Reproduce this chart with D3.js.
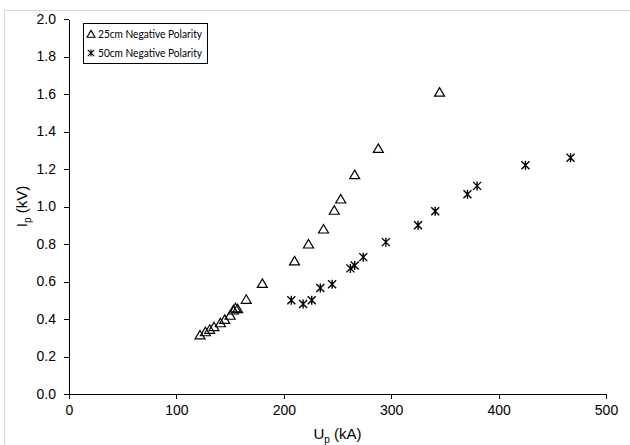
<!DOCTYPE html>
<html lang="en">
<head>
<meta charset="utf-8">
<title>Ip vs Up scatter</title>
<script src="https://d3js.org/d3.v7.min.js"></script>
<style>
  body { margin: 0; background: #fff; }
  svg { display: block; font-family: "Liberation Sans", Arial, sans-serif; }
  .axis path, .axis line { stroke: #000; shape-rendering: crispEdges; }
  .axis text { font-size: 14px; fill: #000; font-family: "Liberation Sans", Arial, sans-serif; }
</style>
</head>
<body>
<div id="chart"></div>
<script>
// Data (Up in kA, Ip in kV)
const seriesNames = ["25cm Negative Polarity", "50cm Negative Polarity"];

const up25 = [122, 127, 131, 135, 141, 145, 150, 153, 155, 157, 165, 180, 210, 223, 237, 247, 253, 266, 288, 345];
const ip25 = [0.315, 0.332, 0.345, 0.359, 0.38, 0.398, 0.42, 0.448, 0.46, 0.455, 0.505, 0.59, 0.71, 0.80, 0.88, 0.98, 1.04, 1.17, 1.31, 1.61];

const up50 = [207, 218, 226, 234, 245, 262, 266, 274, 295, 325, 341, 371, 380, 425, 467];
const ip50 = [0.50, 0.48, 0.50, 0.565, 0.585, 0.67, 0.685, 0.73, 0.81, 0.90, 0.975, 1.065, 1.11, 1.22, 1.26];

const xTicks = [0, 100, 200, 300, 400, 500];
const yTicks = [0, 0.2, 0.4, 0.6, 0.8, 1.0, 1.2, 1.4, 1.6, 1.8, 2.0];

// Dimensions
const width = 630;
const height = 445;
const margin = { top: 19, right: 24, bottom: 51, left: 69 };
const innerWidth = width - margin.left - margin.right;
const innerHeight = height - margin.top - margin.bottom;

const svg = d3.select("#chart")
  .append("svg")
  .attr("width", width)
  .attr("height", height);

// light chart border (top and left edges are the only ones in view)
svg.append("path")
  .attr("d", `M4.5,${height}V10.5H${width}`)
  .attr("fill", "none")
  .attr("stroke", "#d9d9d9");

const bounds = svg.append("g")
  .attr("transform", `translate(${margin.left},${margin.top})`);

// Scales
const x = d3.scaleLinear().domain([0, 500]).range([0, innerWidth]);
const y = d3.scaleLinear().domain([0, 2]).range([innerHeight, 0]);

// Axes
const xAxis = bounds.append("g")
  .attr("class", "axis")
  .attr("transform", `translate(0,${innerHeight})`)
  .call(d3.axisBottom(x).tickValues(xTicks).tickSize(5).tickSizeOuter(0).tickPadding(6).tickFormat(d3.format("d")));

const yAxis = bounds.append("g")
  .attr("class", "axis")
  .call(d3.axisLeft(y).tickValues(yTicks).tickSize(5).tickSizeOuter(0).tickPadding(8).tickFormat(d3.format(".1f")));

xAxis.attr("font-family", null).attr("font-size", null);
yAxis.attr("font-family", null).attr("font-size", null);
bounds.selectAll(".axis .domain").attr("stroke-width", 1.2);

// Axis titles
const xTitle = svg.append("text")
  .attr("x", margin.left + innerWidth / 2)
  .attr("y", 439)
  .attr("text-anchor", "middle")
  .style("font-size", "15px");
xTitle.append("tspan").text("U");
xTitle.append("tspan").attr("dy", 4).style("font-size", "10px").text("p");
xTitle.append("tspan").attr("dy", -4).text(" (kA)");

const yTitle = svg.append("text")
  .attr("transform", `translate(27,${margin.top + innerHeight / 2}) rotate(-90)`)
  .attr("text-anchor", "middle")
  .style("font-size", "15px");
yTitle.append("tspan").text("I");
yTitle.append("tspan").attr("dy", 4).style("font-size", "10px").text("p");
yTitle.append("tspan").attr("dy", -4).text(" (kV)");

// Marker shapes
const triangle = "M0,-4.5L5,4L-5,4Z";
const star = "M-4,-4L4,4M-4,4L4,-4M0,-4.5L0,4.5";

const pts25 = up25.map((u, i) => ({ u, ip: ip25[i] }));
const pts50 = up50.map((u, i) => ({ u, ip: ip50[i] }));

bounds.selectAll("path.tri")
  .data(pts25)
  .join("path")
  .attr("class", "tri")
  .attr("d", triangle)
  .attr("transform", d => `translate(${x(d.u)},${y(d.ip)})`)
  .attr("fill", "none")
  .attr("stroke", "#000")
  .attr("stroke-width", 1.2);

bounds.selectAll("path.star")
  .data(pts50)
  .join("path")
  .attr("class", "star")
  .attr("d", star)
  .attr("transform", d => `translate(${x(d.u)},${y(d.ip)})`)
  .attr("fill", "none")
  .attr("stroke", "#000")
  .attr("stroke-width", 1.4);

// Legend
const legend = svg.append("g").attr("transform", "translate(83,23)");
legend.append("rect")
  .attr("x", 0.5).attr("y", 0.5)
  .attr("width", 124).attr("height", 40)
  .attr("fill", "#fff")
  .attr("stroke", "#000");

[triangle, star].forEach((shape, i) => {
  const row = legend.append("g").attr("transform", `translate(0,${11 + i * 19})`);
  row.append("path")
    .attr("d", shape)
    .attr("transform", "translate(8,0) scale(0.8)")
    .attr("fill", "none")
    .attr("stroke", "#000")
    .attr("stroke-width", 1.4);
  row.append("text")
    .attr("x", 15)
    .attr("y", 4)
    .style("font-family", "Lato, 'Liberation Sans', sans-serif")
    .style("font-size", "10.5px")
    .attr("textLength", 104)
    .attr("lengthAdjust", "spacingAndGlyphs")
    .text(seriesNames[i]);
});
</script>
</body>
</html>
